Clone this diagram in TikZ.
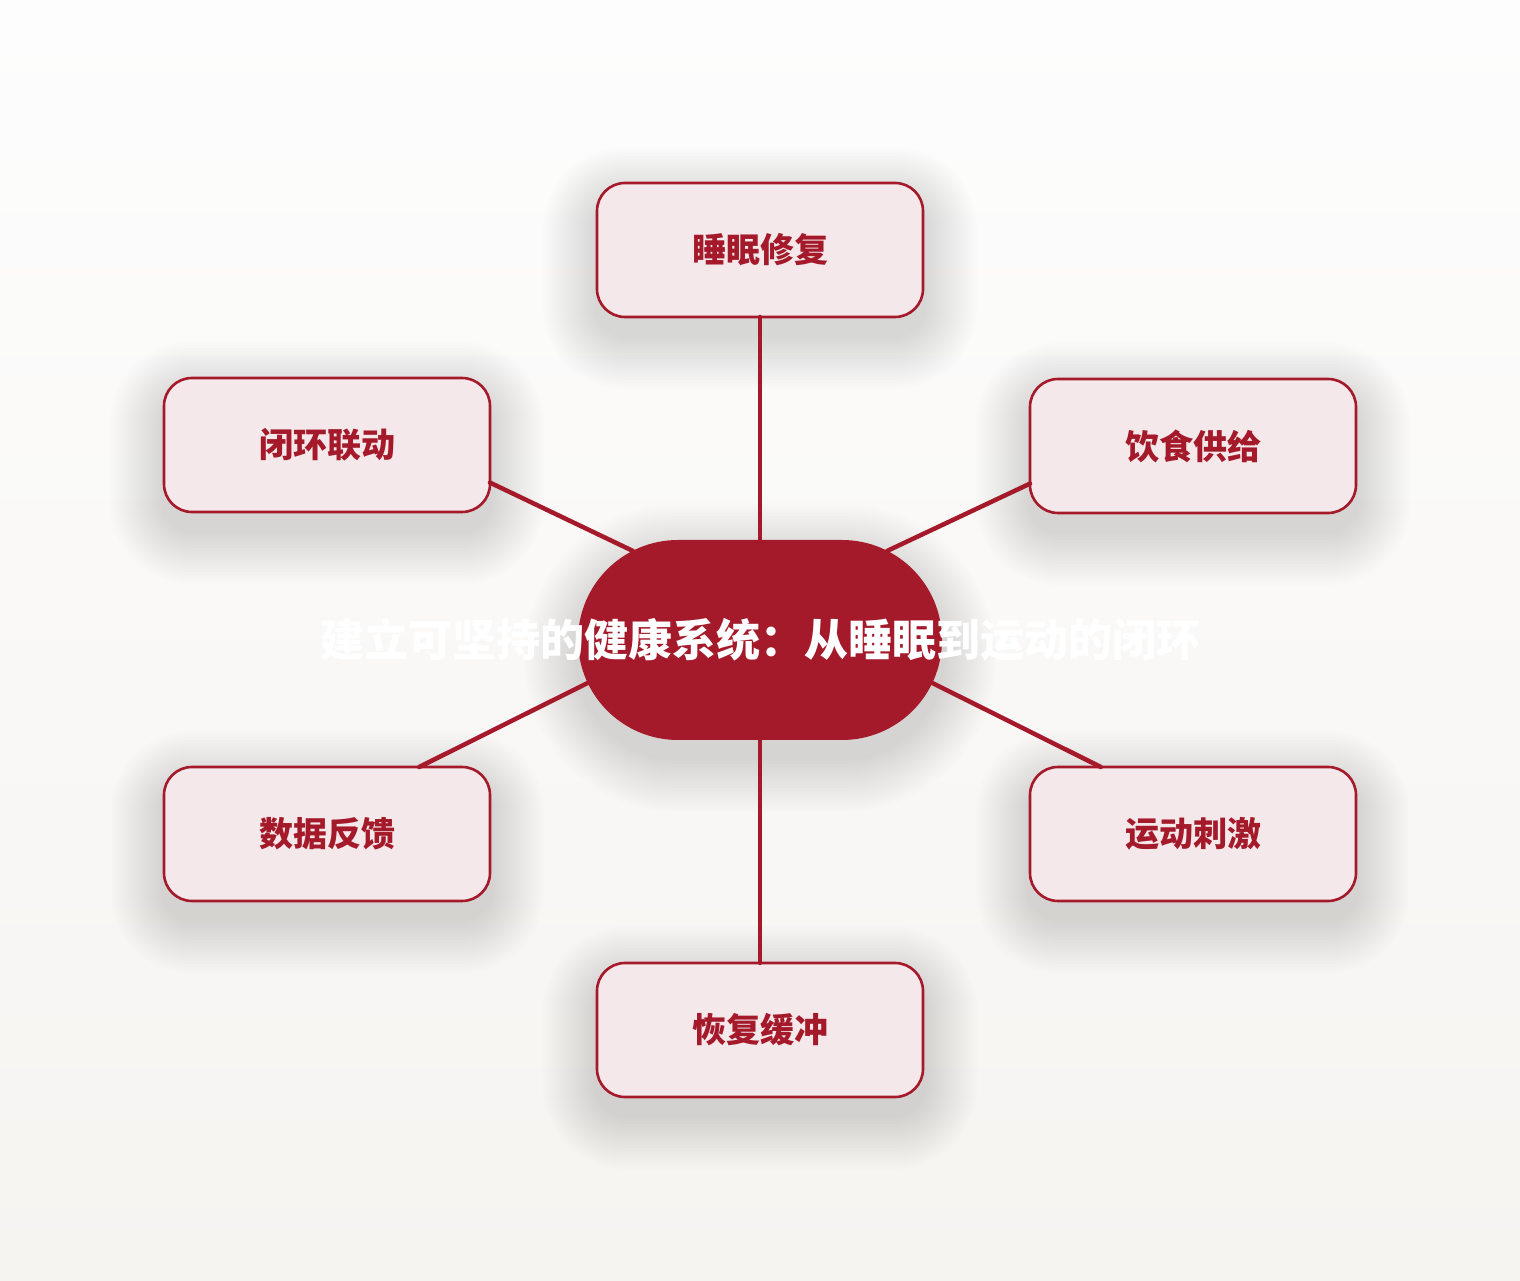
\documentclass[tikz,border=0pt]{standalone}
\usepackage{fontspec}
\setmainfont{Noto Sans CJK SC}[BoldFont={Noto Sans CJK SC Black}]
\usetikzlibrary{shapes.misc}
\definecolor{hubred}{HTML}{A51A2B}
\definecolor{leaffill}{HTML}{F4E8EB}
\definecolor{bgtop}{HTML}{FDFDFD}
\definecolor{bgbot}{HTML}{F6F4F1}
\pgfdeclarelayer{back}
\pgfsetlayers{back,main}
% soft shadow under a node: name, half width, half height, corner radius
\newcommand\castshadow[4]{%
  \foreach \s in {1,...,18}{%
    \fill[black,opacity=0.0085,rounded corners=#4+\s*3pt]
      ([shift={(-#2-\s*3pt,-#3-\s*3pt-18pt)}]#1.center) rectangle
      ([shift={(#2+\s*3pt,#3+\s*3pt-18pt)}]#1.center);}}
\begin{document}
\begin{tikzpicture}[x=1pt,y=1pt,inner sep=0pt,outer sep=0pt,
hub/.style={rounded rectangle,fill=hubred,minimum width=364pt,minimum height=200pt,text=white,font=\fontsize{44}{50}\selectfont\bfseries},
leaf/.style={draw=hubred,fill=leaffill,line width=2.6pt,rounded corners=28pt,minimum width=326pt,minimum height=134pt,text=hubred,font=\fontsize{34}{40}\selectfont\bfseries},
link/.style={draw=hubred,line width=4.5pt,line cap=round}]
\draw (760,640) node[hub] (hub) {\makebox[0pt]{建立可坚持的健康系统：从睡眠到运动的闭环}};
\draw (760,1030) node[leaf] (sleep) {睡眠修复};
\draw (1193,834) node[leaf] (diet) {饮食供给};
\draw (1193,446) node[leaf] (move) {运动刺激};
\draw (760,250) node[leaf] (rest) {恢复缓冲};
\draw (327,446) node[leaf] (data) {数据反馈};
\draw (327,835) node[leaf] (loop) {闭环联动};
\draw[link] (hub.north) -- (sleep.south);
\draw[link] (hub.35) -- (diet.193);
\draw[link] (hub.-14) -- (move.144);
\draw[link] (hub.south) -- (rest.north);
\draw[link] (hub.194) -- (data.36);
\draw[link] (hub.145) -- (loop.-13);
\begin{pgfonlayer}{back}
\shade[top color=bgtop,bottom color=bgbot] (0,0) rectangle (1520,1280);
\castshadow{hub}{182pt}{100pt}{100pt}
\foreach \n in {sleep,diet,move,rest,data,loop}
  \castshadow{\n}{163pt}{67pt}{28pt};
\end{pgfonlayer}
\end{tikzpicture}
\end{document}
